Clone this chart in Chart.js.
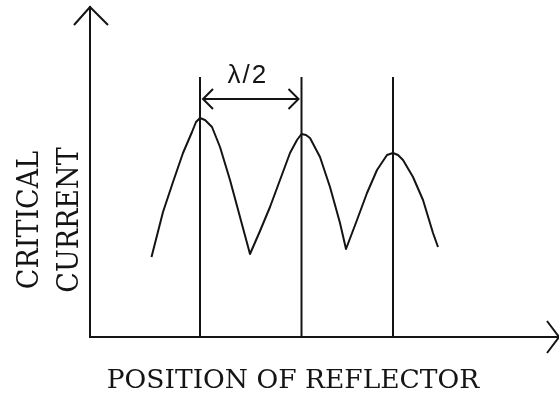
<!DOCTYPE html>
<html><head><meta charset="utf-8">
<script src="https://cdn.jsdelivr.net/npm/chart.js@4/dist/chart.umd.min.js"></script>
<style>html,body{margin:0;padding:0;background:#fff;overflow:hidden}</style>
</head><body>
<canvas id="c" width="559" height="394"></canvas>
<script>
// ---- data (x = position, y = critical current, arbitrary units) ----
const xAxisTitle = 'POSITION OF REFLECTOR';
const yAxisTitle = ['CRITICAL', 'CURRENT'];
const spacingLabel = 'λ/2';
const curveX = [61.5, 73, 83, 93, 102, 106, 110, 115, 122, 130, 140, 150, 160, 170, 180, 190, 200, 207, 211.5, 216, 220, 230, 240, 250, 256, 267, 277, 287, 297, 303, 308, 313, 323, 333, 343, 348];
const curveY = [80, 125, 155, 184, 205, 215, 219, 217, 210, 190, 157, 120, 83, 106, 130, 157, 184, 197, 203, 202, 199, 180, 150, 114, 88, 117, 144, 167, 182, 184, 182, 177, 160, 137, 104, 90];
const peakX = [110, 211.5, 303];
const markerTop = 260;
const spacingY = 238;
const xMax = 469, yMax = 330;

const ink = '#141414';

const vertical = peakX.map(p => ({
  data: [{x: p, y: 0}, {x: p, y: markerTop}],
  borderColor: ink, borderWidth: 2, pointRadius: 0, tension: 0
}));

const decorPlugin = {
  id: 'decor',
  afterDatasetsDraw(chart) {
    const {ctx, chartArea: a, scales: {x, y}} = chart;
    ctx.save();
    ctx.strokeStyle = ink; ctx.lineWidth = 2; ctx.lineCap = 'butt';
    // y axis arrowhead
    ctx.beginPath();
    ctx.moveTo(a.left - 16, a.top + 18); ctx.lineTo(a.left, a.top); ctx.lineTo(a.left + 18, a.top + 18);
    ctx.stroke();
    // x axis arrowhead
    ctx.beginPath();
    ctx.moveTo(a.right - 12, a.bottom - 16); ctx.lineTo(a.right, a.bottom); ctx.lineTo(a.right - 12, a.bottom + 16);
    ctx.stroke();
    // lambda/2 double arrow
    const x1 = x.getPixelForValue(peakX[0]) + 3, x2 = x.getPixelForValue(peakX[1]) - 3;
    const yy = y.getPixelForValue(spacingY);
    ctx.beginPath();
    ctx.moveTo(x1, yy); ctx.lineTo(x2, yy);
    ctx.moveTo(x1 + 10, yy - 10); ctx.lineTo(x1, yy); ctx.lineTo(x1 + 10, yy + 10);
    ctx.moveTo(x2 - 10, yy - 10); ctx.lineTo(x2, yy); ctx.lineTo(x2 - 10, yy + 10);
    ctx.stroke();
    // texts
    ctx.fillStyle = ink;
    ctx.font = '26px "Liberation Sans"';
    ctx.textAlign = 'center'; ctx.textBaseline = 'alphabetic';
    try { ctx.letterSpacing = '2px'; } catch (e) {}
    ctx.fillText(spacingLabel, (x1 + x2) / 2 - 3, yy - 16);
    try { ctx.letterSpacing = '0px'; } catch (e) {}
    ctx.font = '26.5px "DejaVu Serif"';
    ctx.fillText(xAxisTitle, a.left + 203, a.bottom + 51);
    ctx.font = '27px "DejaVu Serif"';
    const cols = [a.left - 52, a.left - 12.5];
    yAxisTitle.forEach((t, i) => {
      ctx.save();
      ctx.translate(cols[i], 220);
      ctx.rotate(-Math.PI / 2);
      ctx.scale(1, 1.1);
      ctx.fillText(t, 0, 0);
      ctx.restore();
    });
    ctx.restore();
  }
};

new Chart(document.getElementById('c'), {
  type: 'line',
  data: {
    datasets: [
      {
        data: curveX.map((v, i) => ({x: v, y: curveY[i]})),
        borderColor: ink, borderWidth: 2, pointRadius: 0, tension: 0,
        borderJoinStyle: 'round'
      },
      ...vertical
    ]
  },
  options: {
    responsive: false, animation: false, devicePixelRatio: 1,
    layout: {padding: {left: 90, right: 0, top: 7, bottom: 57}},
    plugins: {legend: {display: false}, tooltip: {enabled: false}},
    scales: {
      x: {type: 'linear', min: 0, max: xMax,
          ticks: {display: false}, grid: {display: false, drawTicks: false},
          border: {display: true, color: ink, width: 2}},
      y: {type: 'linear', min: 0, max: yMax,
          ticks: {display: false}, grid: {display: false, drawTicks: false},
          border: {display: true, color: ink, width: 2}}
    }
  },
  plugins: [decorPlugin]
});
</script>
</body></html>
